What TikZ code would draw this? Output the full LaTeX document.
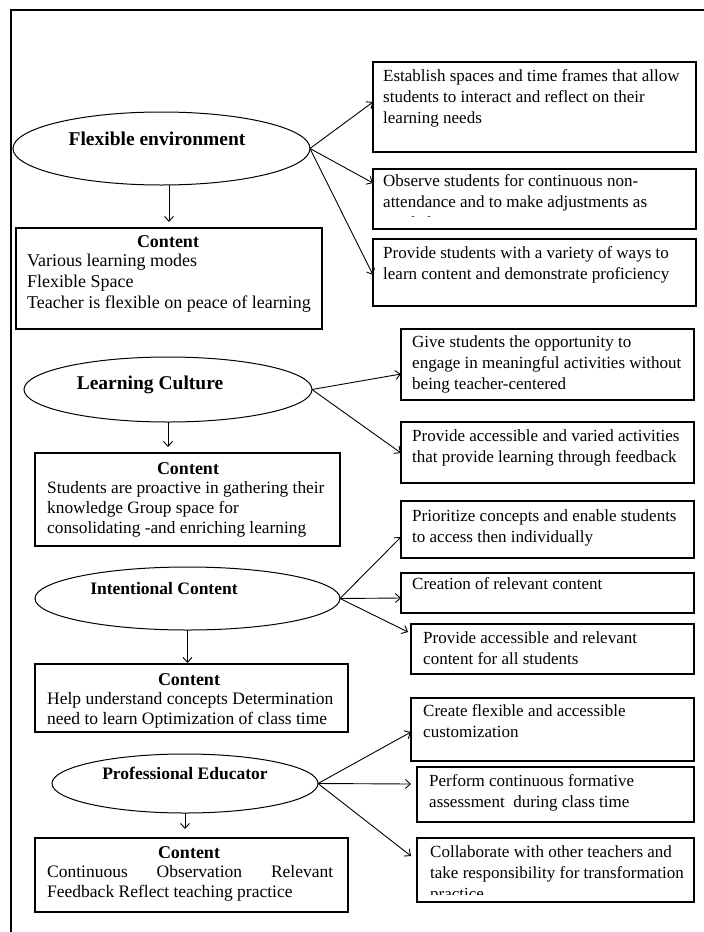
\documentclass[tikz,border=0pt]{standalone}
\usepackage{fontspec}
\setmainfont{Liberation Serif}
\usetikzlibrary{arrows.meta,shapes.geometric,calc}
\newcommand\bodyf{\fontsize{17}{21}\selectfont}
\newcommand\titf[1]{\fontsize{#1}{22}\selectfont\bfseries}
\begin{document}
\begin{tikzpicture}[x=1pt,y=-1pt,
  boxst/.style={draw, line width=1.2pt, rectangle, inner sep=0pt, outer sep=0pt},
  ell/.style={draw, ellipse, line width=1pt, inner sep=0pt, outer sep=0pt},
  body/.style={font=\bodyf, align=left, inner sep=0pt, anchor=north west},
  ttl/.style={inner sep=0pt, anchor=base},
  conn/.style={line width=0.9pt, -{Straight Barb[length=5pt,width=9pt]}},
  frame/.style={line width=1.4pt}
]
\useasboundingbox (0,0) rectangle (704,932);
\draw[frame] (704,10) -- (11,10) -- (11,932);

% ---------- ellipses ----------
\node[ell, minimum width=297, minimum height=73] (e1) at (161.5,148.5) {};
\node[ttl, font=\titf{19.5}] (e1t) at (157,145.5) {Flexible environment};
\node[ell, minimum width=288, minimum height=65] (e2) at (168,389.5) {};
\node[ttl, font=\titf{19.5}] (e2t) at (150,389.5) {Learning Culture};
\node[ell, minimum width=305, minimum height=63] (e3) at (187.5,598.5) {};
\node[ttl, font=\titf{17.5}] (e3t) at (164,594) {Intentional Content};
\node[ell, minimum width=266, minimum height=59] (e4) at (185,783.5) {};
\node[ttl, font=\titf{17.5}] (e4t) at (185,779) {Professional Educator};

% ---------- content boxes ----------
\node[boxst, minimum width=306, minimum height=101] (c1) at (169,278.5) {};
\node[ttl, font=\titf{18}] (c1t) at (168,247) {Content};
\node[body, font=\fontsize{18}{21}\selectfont] (c1b) at (27,{266-14.7}) {\strut Various learning modes\\Flexible Space\\Teacher is flexible on peace of learning};

\node[boxst, minimum width=305, minimum height=93] (c2) at (187.5,499.5) {};
\node[ttl, font=\titf{18}] (c2t) at (188,474) {Content};
\node[body, font=\fontsize{17.3}{20}\selectfont] (c2b) at (47,{493-14}) {\strut Students are proactive in gathering their\\knowledge Group space for\\consolidating -and enriching learning};

\node[boxst, minimum width=313, minimum height=68] (c3) at (191.5,698) {};
\node[ttl, font=\titf{18}] (c3t) at (189,685) {Content};
\node[body, font=\fontsize{17.5}{20}\selectfont] (c3b) at (47,{704-14}) {\strut Help understand concepts Determination\\need to learn Optimization of class time};

\node[boxst, minimum width=313, minimum height=74] (c4) at (191.5,875) {};
\node[ttl, font=\titf{18}] (c4t) at (189,858) {Content};
\node[body, font=\fontsize{17.5}{20}\selectfont] (c4b) at (47,{877-14}) {\strut\makebox[286pt][s]{Continuous Observation Relevant}\\Feedback Reflect teaching practice};

% ---------- right boxes ----------
\node[boxst, minimum width=323, minimum height=90] (bA) at (534.5,107) {};
\node[body] (bAt) at (383,{81.5-14.7}) {\strut Establish spaces and time frames that allow\\students to interact and reflect on their\\learning needs};

\node[boxst, minimum width=323, minimum height=60] (bB) at (534.5,199) {};
\begin{scope}
  \clip (373,169) rectangle (696,216);
  \node[body] (bBt) at (383,{186.5-14.7}) {\strut Observe students for continuous non-\\attendance and to make adjustments as\\needed};
\end{scope}

\node[boxst, minimum width=323, minimum height=67] (bC) at (534.5,272.5) {};
\node[body] (bCt) at (383,{258.5-14.7}) {\strut Provide students with a variety of ways to\\learn content and demonstrate proficiency};

\node[boxst, minimum width=293, minimum height=71] (bD) at (547.5,364.5) {};
\node[body] (bDt) at (412,{347.5-14.7}) {\strut Give students the opportunity to\\engage in meaningful activities without\\being teacher-centered};

\node[boxst, minimum width=293, minimum height=61] (bE) at (547.5,452.5) {};
\node[body] (bEt) at (412,{441.5-14.7}) {\strut Provide accessible and varied activities\\that provide learning through feedback};

\node[boxst, minimum width=293, minimum height=57] (bF) at (547.5,529.5) {};
\node[body] (bFt) at (412,{521.5-14.7}) {\strut Prioritize concepts and enable students\\to access then individually};

\node[boxst, minimum width=293, minimum height=40] (bG) at (547.5,593) {};
\node[body] (bGt) at (412,{589.5-14.7}) {\strut Creation of relevant content};

\node[boxst, minimum width=283, minimum height=50] (bH) at (552.5,649) {};
\node[body] (bHt) at (423,{643.5-14.7}) {\strut Provide accessible and relevant\\content for all students};

\node[boxst, minimum width=283, minimum height=63] (bI) at (552.5,729.5) {};
\node[body] (bIt) at (423,{716.5-14.7}) {\strut Create flexible and accessible\\customization};

\node[boxst, minimum width=277, minimum height=55] (bJ) at (555.5,794.5) {};
\node[body] (bJt) at (429,{786.5-14.7}) {\strut Perform continuous formative\\assessment\ \ during class time};

\node[boxst, minimum width=277, minimum height=64] (bK) at (555.5,870) {};
\begin{scope}
  \clip (417,838) rectangle (694,894);
  \node[body] (bKt) at (430,{857.5-14.7}) {\strut Collaborate with other teachers and\\take responsibility for transformation\\practice};
\end{scope}

% ---------- connectors ----------
\draw[conn, shorten >=6pt] (c1.north |- e1.south) -- (c1.north);
\draw[conn, shorten >=6pt] (e2.south) -- (e2.south |- c2.north);
\draw[conn, shorten >=1pt] (e3.south) -- (e3.south |- c3.north);
\draw[conn, shorten >=9pt] (e4.south) -- (e4.south |- c4.north);

\draw[conn] (e1.east) -- (bA.west |- 0,102);
\draw[conn] (e1.east) -- (bB.west |- 0,183);
\draw[conn] (e1.east) -- (bC.west |- 0,275);

\draw[conn] (e2.east) -- (bD.west |- 0,374);
\draw[conn] (e2.east) -- (bE.west |- 0,453);

\draw[conn] (e3.east) -- (bF.west |- 0,537);
\draw[conn] (e3.east) -- (bG.west |- 0,598);
\draw[conn] (e3.east) -- ([xshift=-3pt]bH.west |- 0,632);

\draw[conn] (e4.east) -- (bI.west |- 0,732);
\draw[conn] (e4.east) -- (bI.west |- 0,784);
\draw[conn] (e4.east) -- (bI.west |- 0,856);
\end{tikzpicture}
\end{document}
